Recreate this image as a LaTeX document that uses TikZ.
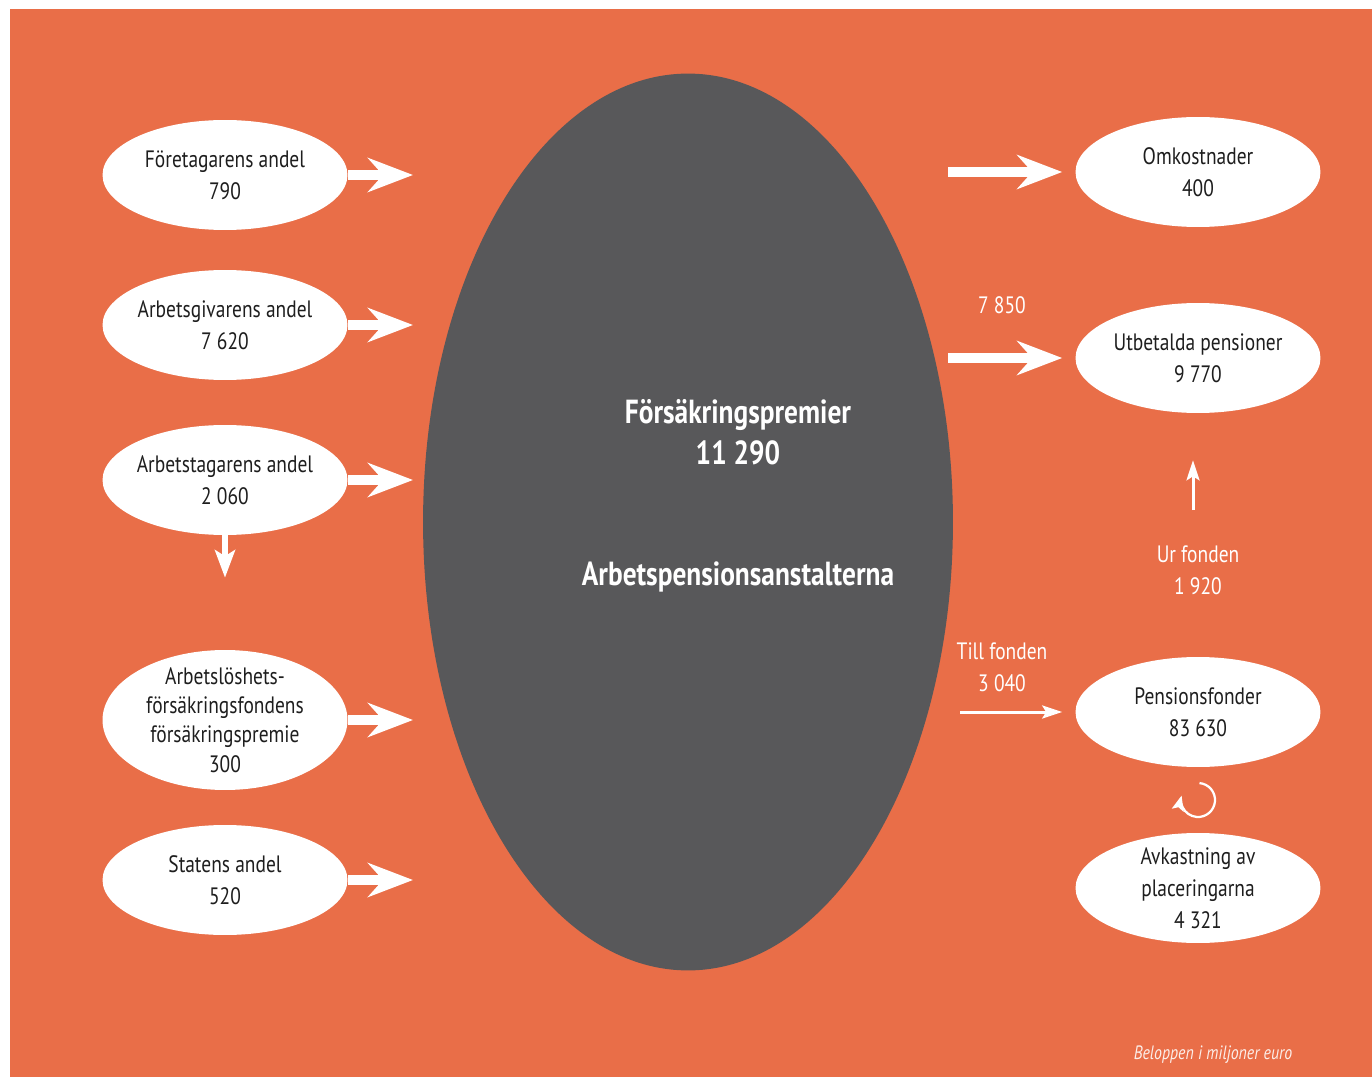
\documentclass[tikz,border=0pt]{standalone}
\usepackage{fontspec}
\setmainfont{PT Sans}[FakeStretch=0.82]
\usetikzlibrary{shapes.geometric,arrows.meta}
\definecolor{bakgrund}{RGB}{233,110,72}
\definecolor{anstalt}{RGB}{88,88,90}
\definecolor{texten}{RGB}{30,30,30}
\tikzstyle{andel} = [ellipse, fill=white, text=texten, minimum width=4.9cm, minimum height=2.2cm, inner sep=-0.3cm, align=center, font=\fontsize{13.5}{18.2}\selectfont]
\tikzstyle{flode} = [white, line width=0.2cm, -{Stealth[length=0.9cm,width=0.68cm,inset=0.3cm]}]
\tikzstyle{tunn} = [white, line width=0.06cm, -{Stealth[length=0.4cm,width=0.26cm,inset=0.08cm]}]
\tikzstyle{etikett} = [text=white, align=center, font=\fontsize{13.5}{18.2}\selectfont]

\begin{document}
\begin{tikzpicture}[x=0.02cm, y=-0.02cm]
        \useasboundingbox (0,0) rectangle (1372,1077);
        \fill[white] (0,0) rectangle (1372,1077);
        \fill[bakgrund] (10,9) rectangle (1372,1077);

        \node[ellipse, fill=anstalt, minimum width=10.6cm, minimum height=17.94cm] (anst) at (688,522) {};
        \node[text=white, align=center, font=\fontsize{19}{23.3}\bfseries] (premie) at (738,432) {Försäkringspremier\\11 290};
        \node[text=white, font=\fontsize{19}{23.3}\bfseries] (namn) at (738,577) {Arbetspensionsanstalterna};

        % in till anstalterna
        \node[andel] (fore) at (225,175) {Företagarens andel\\790};
        \node[andel] (givare) at (225,325) {Arbetsgivarens andel\\7 620};
        \node[andel] (tagare) at (225,480) {Arbetstagarens andel\\2 060};
        \node[andel, minimum height=2.8cm, font=\fontsize{13.5}{16.6}\selectfont] (losh) at (225,720) {Arbetslöshets-\\försäkringsfondens\\försäkringspremie\\300};
        \node[andel] (stat) at (225,880) {Statens andel\\520};

        % ut ur anstalterna
        \node[andel] (omk) at (1198,172) {Omkostnader\\400};
        \node[andel] (utb) at (1198,358) {Utbetalda pensioner\\9 770};
        \node[andel] (fond) at (1198,712) {Pensionsfonder\\83 630};
        \node[andel] (avk) at (1198,888) {Avkastning av\\placeringarna\\4 321};

        \coordinate (inL) at (413,0);
        \coordinate (utL) at (948,0);
        \coordinate (tillL) at (960,0);
        \coordinate (urbas) at (1193,510);
        \coordinate (varv) at (1198,800);

        \foreach \n in {fore,givare,tagare,losh,stat}
            \draw[flode] (\n.east) -- (\n.east -| inL);
        \foreach \n in {omk,utb}
            \draw[flode, shorten >=0.26cm] (\n.west -| utL) -- (\n.west);
        \draw[tunn, shorten >=0.26cm] (fond.west -| tillL) -- (fond.west);
        \draw[tunn, shorten >=0.94cm] (urbas) -- (urbas |- utb.south);
        \draw[white, line width=0.12cm, -{Stealth[length=0.55cm,width=0.4cm,inset=0.12cm]}, shorten >=1.44cm] (tagare.south) -- (tagare.south |- losh.north);
        \draw[white, line width=0.045cm, -{Stealth[length=0.3cm,width=0.24cm,inset=0.06cm]}] (varv) ++(85:0.34cm) arc[start angle=85, end angle=-195, radius=0.34cm];

        \node[etikett] (sjuttio) at (1002,305) {7 850};
        \node[etikett] (till) at (1002,667) {Till fonden\\3 040};
        \node[etikett] (ur) at (1198,570) {Ur fonden\\1 920};
        \node[text=white!88!bakgrund, font=\fontsize{11}{13}\itshape] (belopp) at (1213,1055) {Beloppen i miljoner euro};
    \end{tikzpicture}
\end{document}
